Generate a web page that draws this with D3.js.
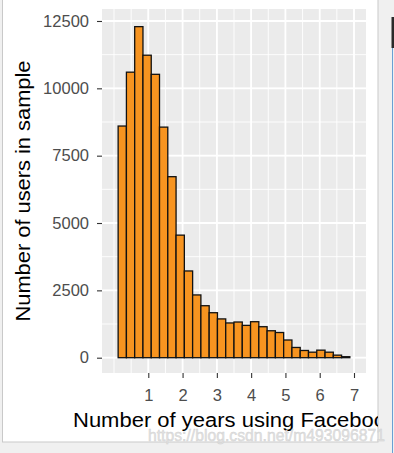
<!DOCTYPE html>
<html>
<head>
<meta charset="utf-8">
<script src="https://cdn.jsdelivr.net/npm/d3@7"></script>
<style>
  html, body { margin: 0; padding: 0; background: #f0f0f0; }
  svg { display: block; font-family: "Liberation Sans", Arial, sans-serif; }
</style>
</head>
<body>
<div id="chart"></div>
<script>
// Histogram of Facebook tenure in years, ggplot default 30 bins over 0..7
// (the first and the last bin are empty, so only 28 bars show)
const binWidth = 7 / 29;
const userCounts = [
  8600, 10600, 12290, 11230, 10520, 8560, 6720, 4550, 3220, 2330,
  1930, 1670, 1440, 1290, 1325, 1200, 1336, 1150, 1000, 935,
  657, 380, 268, 205, 280, 205, 95, 37,
];
const binStarts = userCounts.map((_, i) => (i + 0.5) * binWidth);

const xTickValues = [1, 2, 3, 4, 5, 6, 7];
const yTickValues = [0, 2500, 5000, 7500, 10000, 12500];
const xMinorValues = d3.range(0, 7.01, 0.5);
const yMinorValues = d3.range(0, 12501, 1250);

const xTitle = "Number of years using Facebook";
const yTitle = "Number of users in sample";
const watermark = "https://blog.csdn.net/m493096871";

const width = 394;
const height = 453;
const panel = { left: 102, right: 366, top: 9, bottom: 373 };

const svg = d3.select("#chart")
  .append("svg")
  .attr("width", width)
  .attr("height", height);

// window chrome around the plot pane
svg.append("rect")
  .attr("width", width)
  .attr("height", height)
  .attr("fill", "#f0f0f0");

svg.append("rect")
  .attr("x", 2.5)
  .attr("y", -1)
  .attr("width", 375.5)
  .attr("height", 443)
  .attr("fill", "#ffffff")
  .attr("stroke", "#c9c9c9");

svg.append("rect")
  .attr("x", 391.5)
  .attr("y", 17)
  .attr("width", 2.5)
  .attr("height", 31)
  .attr("fill", "#2a2a2a");

svg.append("line")
  .attr("x1", 392.5).attr("x2", 392.5)
  .attr("y1", 48).attr("y2", height)
  .attr("stroke", "#6a9fd4");

svg.append("defs")
  .append("clipPath")
  .attr("id", "pane")
  .append("rect")
  .attr("x", 3)
  .attr("y", 0)
  .attr("width", 375)
  .attr("height", 442);

const g = svg.append("g").attr("clip-path", "url(#pane)");

const x = d3.scaleLinear()
  .domain([-0.35, 7.35])
  .range([panel.left, panel.right]);

const y = d3.scaleLinear()
  .domain([-568, 12945])
  .range([panel.bottom, panel.top]);

// panel background + grid (theme_grey look)
g.append("rect")
  .attr("x", panel.left)
  .attr("y", panel.top)
  .attr("width", panel.right - panel.left)
  .attr("height", panel.bottom - panel.top)
  .attr("fill", "#ebebeb");

const grid = g.append("g").attr("stroke", "#ffffff");

grid.selectAll(".x-minor")
  .data(xMinorValues)
  .join("line")
  .attr("x1", d => x(d)).attr("x2", d => x(d))
  .attr("y1", panel.top).attr("y2", panel.bottom)
  .attr("stroke-width", 0.9);

grid.selectAll(".y-minor")
  .data(yMinorValues)
  .join("line")
  .attr("y1", d => y(d)).attr("y2", d => y(d))
  .attr("x1", panel.left).attr("x2", panel.right)
  .attr("stroke-width", 0.9);

grid.selectAll(".x-major")
  .data(xTickValues)
  .join("line")
  .attr("x1", d => x(d)).attr("x2", d => x(d))
  .attr("y1", panel.top).attr("y2", panel.bottom)
  .attr("stroke-width", 1.8);

grid.selectAll(".y-major")
  .data(yTickValues)
  .join("line")
  .attr("y1", d => y(d)).attr("y2", d => y(d))
  .attr("x1", panel.left).attr("x2", panel.right)
  .attr("stroke-width", 1.8);

// bars
g.append("g")
  .selectAll("rect")
  .data(userCounts)
  .join("rect")
  .attr("x", (d, i) => x(binStarts[i]))
  .attr("width", (d, i) => x(binStarts[i] + binWidth) - x(binStarts[i]))
  .attr("y", d => y(d))
  .attr("height", d => y(0) - y(d))
  .attr("fill", "#F79420")
  .attr("stroke", "#111111")
  .attr("stroke-width", 1.3);

// axes
const styleAxis = (sel) => {
  sel.select(".domain").remove();
  sel.selectAll(".tick line").attr("stroke", "#333333").attr("stroke-width", 1.1);
  sel.selectAll(".tick text")
    .attr("fill", "#4d4d4d")
    .style("font-size", "16.5px")
    .style("font-family", "'Liberation Sans', Arial, sans-serif");
};

g.append("g")
  .attr("transform", `translate(0,${panel.bottom})`)
  .call(d3.axisBottom(x).tickValues(xTickValues).tickFormat(d3.format("d"))
    .tickSize(5).tickPadding(11))
  .call(styleAxis);

g.append("g")
  .attr("transform", `translate(${panel.left},0)`)
  .call(d3.axisLeft(y).tickValues(yTickValues).tickFormat(d3.format("d"))
    .tickSize(5).tickPadding(8))
  .call(styleAxis);

// axis titles
g.append("text")
  .attr("x", 73)
  .attr("y", 426.5)
  .attr("fill", "#000000")
  .attr("textLength", 324)
  .attr("lengthAdjust", "spacingAndGlyphs")
  .style("font-size", "20px")
  .text(xTitle);

g.append("text")
  .attr("transform", `translate(29.5,${(panel.top + panel.bottom) / 2}) rotate(-90)`)
  .attr("text-anchor", "middle")
  .attr("fill", "#000000")
  .attr("textLength", 261)
  .attr("lengthAdjust", "spacingAndGlyphs")
  .style("font-size", "20px")
  .text(yTitle);

// CSDN watermark sitting on top of the screenshot
svg.append("text")
  .attr("x", 148)
  .attr("y", 441)
  .attr("fill", "#e2e2e2")
  .attr("stroke", "#cfcfcf")
  .attr("stroke-width", 0.4)
  .attr("textLength", 237)
  .attr("lengthAdjust", "spacingAndGlyphs")
  .style("font-size", "16px")
  .text(watermark);
</script>
</body>
</html>
